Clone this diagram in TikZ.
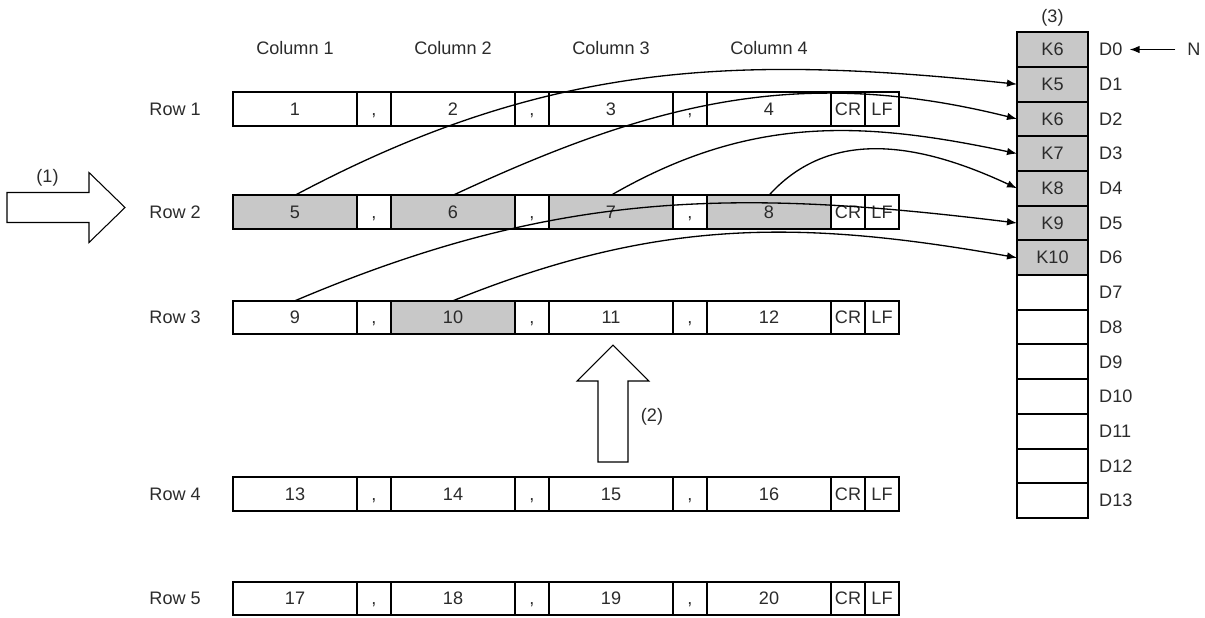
\documentclass[tikz,border=0pt]{standalone}
\usepackage{fontspec}
\setmainfont{Liberation Sans}
\usepackage{tikz}
\usetikzlibrary{arrows.meta,positioning}
\definecolor{cellgray}{HTML}{C8C8C8}
\definecolor{inkgray}{HTML}{2B2B2B}

\begin{document}
\begin{tikzpicture}[>={Latex[length=2mm,width=1.5mm]},
  every node/.style={font=\fontsize{10.3}{12}\selectfont, text=inkgray, align=center},
  val/.style={draw, line width=1.1pt, outer sep=0pt, minimum width=2.48cm, minimum height=0.67cm, text height=1.6ex, text depth=0.3ex},
  sep/.style={val, minimum width=0.68cm, inner xsep=1pt},
  reg/.style={draw, line width=1.1pt, outer sep=0pt, minimum width=1.42cm, minimum height=0.694cm},
  link/.style={->, line width=0.75pt},
  bigarrow/.style={draw, line width=0.6pt, fill=white}]
  \useasboundingbox (0,0) rectangle (24.1,-12.34);

  % the five rows of the file
  \foreach \r/\y/\fa/\fb/\fc/\fd in {1/-2.18/white/white/white/white, 2/-4.24/cellgray/cellgray/cellgray/cellgray, 3/-6.35/white/cellgray/white/white, 4/-9.88/white/white/white/white, 5/-11.97/white/white/white/white} {
    \pgfmathtruncatemacro\na{4*\r-3}
    \pgfmathtruncatemacro\nb{4*\r-2}
    \pgfmathtruncatemacro\nc{4*\r-1}
    \pgfmathtruncatemacro\nd{4*\r}
    \node[val, fill=\fa] (v\r-1) at (5.90,\y) {\na};
    \node[sep, right=0pt of v\r-1] (k\r-1) {,};
    \node[val, fill=\fb, right=0pt of k\r-1] (v\r-2) {\nb};
    \node[sep, right=0pt of v\r-2] (k\r-2) {,};
    \node[val, fill=\fc, right=0pt of k\r-2] (v\r-3) {\nc};
    \node[sep, right=0pt of v\r-3] (k\r-3) {,};
    \node[val, fill=\fd, right=0pt of k\r-3] (v\r-4) {\nd};
    \node[sep, right=0pt of v\r-4] (cr\r) {CR};
    \node[sep, right=0pt of cr\r] (lf\r) {LF};
    \node[left=0.52cm of v\r-1] (row\r) {Row \r};
  }
  \foreach \c in {1,...,4}
    \node[above=0.62cm of v1-\c] (col\c) {Column \c};

  % device registers
  \node[reg, fill=cellgray] (d0) at (21.05,-0.99) {K6};
  \foreach \i/\txt/\fl [remember=\i as \prev (initially 0)] in {1/K5/cellgray, 2/K6/cellgray, 3/K7/cellgray, 4/K8/cellgray, 5/K9/cellgray, 6/K10/cellgray, 7//white, 8//white, 9//white, 10//white, 11//white, 12//white, 13//white}
    \node[reg, fill=\fl, below=0pt of d\prev] (d\i) {\txt};
  \foreach \i in {0,...,13}
    \node[right=0.1cm of d\i] (dl\i) {D\i};
  \node[above=0pt of d0] (tag3) {(3)};
  \node (n) at (23.88,-0.99) {N};
  \draw[->, line width=0.75pt, shorten <=0.12cm, shorten >=0.02cm] (n) -- (dl0);

  % hollow arrows
  \draw[bigarrow] (0.14,-3.85) -- (1.78,-3.85) -- (1.78,-3.45) -- (2.50,-4.15) -- (1.78,-4.85) -- (1.78,-4.45) -- (0.14,-4.45) -- cycle;
  \node (tag1) at (0.95,-3.56) {(1)};
  \draw[bigarrow] (11.96,-9.24) -- (11.96,-7.62) -- (11.54,-7.62) -- (12.26,-6.90) -- (12.98,-7.62) -- (12.56,-7.62) -- (12.56,-9.24) -- cycle;
  \node (tag2) at (13.04,-8.34) {(2)};

  \draw[link] (v2-1.north) to[out=28, in=174] (d1.west);
  \draw[link] (v2-2.north) to[out=25, in=166] (d2.west);
  \draw[link] (v2-3.north) to[out=30, in=168] (d3.west);
  \draw[link] (v2-4.north) to[out=48, in=155] (d4.west);
  \draw[link] (v3-1.north) to[out=23, in=173] (d5.west);
  \draw[link] (v3-2.north) to[out=22, in=170] (d6.west);
\end{tikzpicture}
\end{document}
